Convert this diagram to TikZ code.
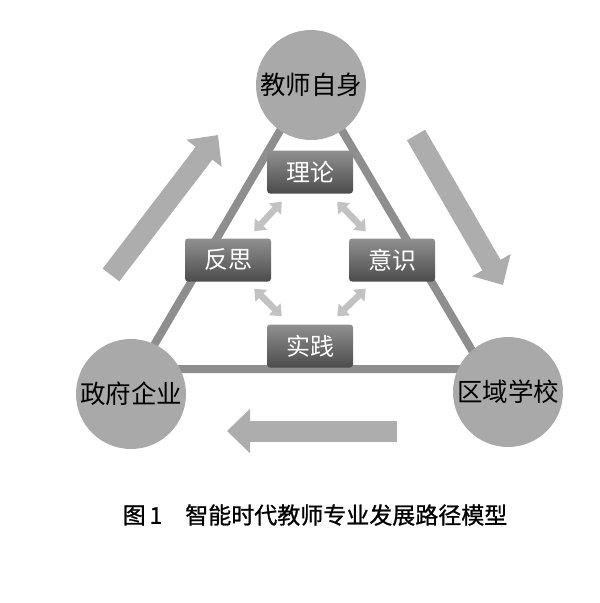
\documentclass[tikz,border=0pt]{standalone}
\usepackage{fontspec}
\usepackage{xcolor}
\usepackage{tikz}
\usetikzlibrary{positioning,calc,arrows.meta}
\newfontfamily\cjk{Noto Sans CJK SC}
\newfontfamily\cjkcap[FakeBold=1]{Noto Sans CJK SC}
\definecolor{circc}{HTML}{A9A9A9}
\definecolor{triac}{HTML}{8E8E8E}
\definecolor{bigac}{HTML}{ADADAD}
\definecolor{smallac}{HTML}{C2C2C2}
\definecolor{boxtop}{HTML}{909090}
\definecolor{boxbot}{HTML}{4C4C4C}

\begin{document}
\begin{tikzpicture}[x=1pt, y=-1pt, font=\cjk,
    circ/.style={circle, fill=circc, minimum size=110pt, inner sep=0pt,
      font=\cjk\fontsize{25.5}{25.5}\selectfont},
    stage/.style={rounded corners=3pt, top color=boxtop, bottom color=boxbot,
      minimum width=86pt, minimum height=43pt, inner sep=0pt, text=white,
      font=\cjk\fontsize{24}{24}\selectfont},
    tri/.style={draw=triac, line width=8pt},
    bigarr/.style={draw=bigac, line width=21pt, -{Triangle[width=43pt, length=23pt]}},
    dbl/.style={draw=smallac, line width=6.5pt,
      {Triangle[width=16pt, length=10pt]}-{Triangle[width=16pt, length=10pt]}}]
  \useasboundingbox (0,0) rectangle (600,603);
  % triangle frame
  \coordinate (ta) at (311,78);
  \coordinate (tl) at (140,369);
  \coordinate (tr) at (483,369);
  \draw[tri] (ta) -- (tl) -- (tr) -- cycle;
  % three actors
  \node[circ] (teacher) at (311,85) {教师自身};
  \node[circ] (gov) at (131,394) {政府企业};
  \node[circ] (school) at (508,392) {区域学校};
  % inner cycle
  \node[stage] (lilun) at (310,172) {理论};
  \node[stage] (fansi) at (228,260) {反思};
  \node[stage] (yishi) at (392,260) {意识};
  \node[stage] (shijian) at (310,346) {实践};
  \draw[dbl] ([xshift=15pt, yshift=-8pt]lilun.south west) -- ([xshift=-17pt, yshift=7pt]fansi.north east);
  \draw[dbl] ([xshift=-16pt, yshift=-8pt]lilun.south east) -- ([xshift=17pt, yshift=7pt]yishi.north west);
  \draw[dbl] ([xshift=-17pt, yshift=-7pt]fansi.south east) -- ([xshift=15pt, yshift=8pt]shijian.north west);
  \draw[dbl] ([xshift=17pt, yshift=-7pt]yishi.south west) -- ([xshift=-16pt, yshift=8pt]shijian.north east);
  % outer flow
  \coordinate (up0) at (111,275);
  \coordinate (up1) at (218,135);
  \coordinate (dn0) at (416,135);
  \coordinate (dn1) at (503,285);
  \coordinate (lf0) at (397,431);
  \coordinate (lf1) at (227,431);
  \draw[bigarr] (up0) -- (up1);
  \draw[bigarr] (dn0) -- (dn1);
  \draw[bigarr] (lf0) -- (lf1);
  % caption
  \node[font=\cjkcap\fontsize{23}{23}\selectfont] (cap) at (315,515)
    {图\,1\hspace{1em}智能时代教师专业发展路径模型};
\end{tikzpicture}
\end{document}
